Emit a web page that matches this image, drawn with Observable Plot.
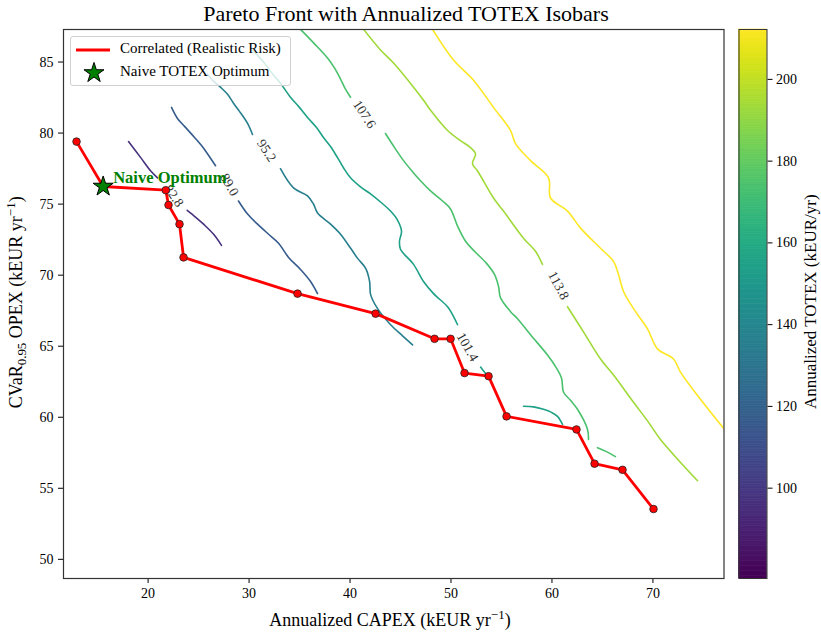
<!DOCTYPE html>
<html>
<head>
<meta charset="utf-8">
<script src="https://cdn.jsdelivr.net/npm/d3@7"></script>
<script src="https://cdn.jsdelivr.net/npm/@observablehq/plot@0.6"></script>
<style>
  html, body { margin: 0; padding: 0; background: #fff; }
  #wrap { position: relative; width: 821px; height: 634px; font-family: "Liberation Serif", "Times New Roman", serif; color: #000; }
  #main, #cbar { position: absolute; top: 0; }
  #main { left: 0; }
  #cbar { left: 735px; }
  .lbl { position: absolute; white-space: nowrap; line-height: 1.15; }
  sup, sub { font-size: 0.72em; line-height: 0; }
</style>
</head>
<body>
<div id="wrap">
  <div id="main"></div>
  <div id="cbar"></div>
  <div class="lbl" id="title" style="left:6px;width:800px;top:1px;text-align:center;font-size:22px;">Pareto Front with Annualized TOTEX Isobars</div>
  <div class="lbl" id="xlab" style="left:190px;width:400px;top:610px;text-align:center;font-size:18px;">Annualized CAPEX (kEUR yr<sup>−1</sup>)</div>
  <div class="lbl" id="ylab" style="left:-184px;width:400px;top:292px;text-align:center;font-size:18px;transform:rotate(-90deg);">CVaR<sub>0.95</sub> OPEX (kEUR yr<sup>−1</sup>)</div>
  <div class="lbl" id="cblab" style="left:611px;width:400px;top:292px;text-align:center;font-size:17px;transform:rotate(-90deg);">Annualized TOTEX (kEUR/yr)</div>
  <div id="legend" style="position:absolute;left:70px;top:36px;width:219px;height:48px;background:rgba(255,255,255,0.8);border:1px solid #d0d0d0;border-radius:3px;font-size:15px;">
    <svg id="legsvg" width="50" height="48" style="position:absolute;left:0;top:0;"></svg>
    <div class="lbl" style="left:49px;top:3px;">Correlated (Realistic Risk)</div>
    <div class="lbl" style="left:49px;top:26px;">Naive TOTEX Optimum</div>
  </div>
</div>
<script>
// ---- Pareto front (correlated, realistic risk) ----
const frontCapex = [12.91, 15.55, 21.75, 22.02, 23.11, 23.51, 34.80, 42.53, 48.37, 49.96, 51.34, 53.72, 55.50, 62.43, 64.22, 66.99, 70.06];
const frontOpex  = [79.40, 76.24, 75.98, 74.94, 73.59, 71.25, 68.70, 67.29, 65.52, 65.52, 63.11, 62.89, 60.06, 59.14, 56.73, 56.30, 53.54];

// ---- Naive TOTEX optimum ----
const naiveCapex = 15.55;
const naiveOpex = 76.24;

// ---- Isobar levels and traced contour segments [capex, opex] ----
const isoLevels = [82.8, 89.0, 95.2, 101.4, 107.6, 113.8, 120.0];
const iso828 = [
  [[18.06,79.40],[19.25,78.29],[20.24,77.35],[20.93,76.85]],
  [[23.87,74.56],[24.69,74.09],[25.52,73.57],[26.51,72.86],[27.27,72.10]]
];
const iso890 = [
  [[22.32,81.81],[22.91,81.03],[23.61,80.47],[24.60,79.69],[25.29,79.12],[25.88,78.55],[26.68,77.70]],
  [[28.95,75.22],[29.85,74.30],[30.84,73.59],[31.93,72.88],[32.92,72.25],[33.91,71.25],[35.10,70.40],[36.09,69.55],[36.78,68.70]]
];
const iso952 = [
  [[25.88,84.15],[26.38,83.72],[27.17,83.23],[27.87,82.73],[28.46,82.10],[29.05,81.53],[29.85,80.68],[30.34,79.90]],
  [[33.11,77.49],[34.40,76.14],[35.79,75.58],[36.38,75.01],[36.78,74.37],[38.07,73.59],[39.06,72.88],[40.06,71.89],[40.75,71.18],[41.55,70.48],[41.94,69.55],[42.04,68.63],[42.73,67.64],[44.02,66.51],[45.20,65.73],[46.19,65.09]]
];
const iso1014 = [
  [[30.34,85.85],[31.43,85.00],[32.42,84.08],[33.11,83.51],[34.10,82.52],[34.90,81.88],[35.79,81.10],[36.68,80.39],[37.37,79.69],[38.07,79.05],[38.76,78.27],[39.35,77.56],[40.05,76.85],[41.04,76.21],[42.03,75.72],[43.02,75.15],[44.01,74.51],[44.70,73.88],[45.10,73.10],[44.90,72.39],[45.00,71.82],[46.29,70.76],[47.28,69.55],[48.27,68.70],[49.66,67.78],[50.15,67.22],[50.65,66.51]],
  [[52.93,63.53],[53.92,62.61]],
  [[57.18,60.77],[58.17,60.73],[59.16,60.56],[59.96,60.34],[60.55,60.06],[61.05,59.49]]
];
const iso1076 = [
  [[35.10,87.3],[36.39,86.35],[37.77,85.28],[38.47,84.57],[39.06,83.80],[39.55,83.09],[40.05,82.52]],
  [[43.51,79.97],[44.41,78.98],[45.30,78.06],[46.19,77.28],[46.98,76.64],[47.97,75.93],[49.16,75.22],[49.95,74.66],[50.65,73.45],[51.44,72.39],[52.33,71.68],[53.52,70.83],[54.31,70.05],[54.71,69.20],[54.90,68.42],[55.90,67.43],[56.59,66.93],[57.88,65.80],[59.56,64.38],[60.45,63.46],[60.95,62.75],[61.15,61.76],[61.84,61.19],[62.53,60.56],[63.52,59.14],[63.62,58.43]],
  [[64.51,57.86],[65.40,57.58],[66.29,57.23]]
];
const iso1138 = [
  [[41.34,87.3],[43.02,85.85],[44.31,84.93],[46.29,83.23],[47.28,82.31],[47.98,81.60],[49.66,80.18],[50.94,79.47],[51.93,78.98],[52.43,78.55],[52.13,77.84],[52.62,77.35],[54.21,75.43],[55.20,74.51],[57.18,72.60],[58.37,71.68],[59.06,70.76]],
  [[61.54,67.78],[63.12,66.01],[64.81,64.10],[66.10,62.97],[68.08,61.05],[69.57,59.64],[70.75,58.43],[73.03,56.59],[74.42,55.53]]
];
const iso1200 = [
  [[48.17,87.3],[50.25,85.14],[52.23,83.72],[54.21,81.81],[55.90,80.18],[56.39,79.26],[57.88,78.06],[59.66,76.85],[59.86,75.43],[61.54,74.51],[62.83,73.31],[64.81,71.89],[66.10,70.97],[66.59,70.05],[67.09,68.85],[68.28,67.43],[69.46,66.22],[70.45,64.81],[72.04,64.10],[72.73,63.18],[74.71,61.26],[77.09,59.14]]
];

// ---- Inline contour labels ----
const labelLevel = [82.8, 89.0, 95.2, 101.4, 107.6, 113.8];
const labelCapex = [22.55, 28.06, 31.73, 51.64, 41.43, 60.65];
const labelOpex  = [75.58, 76.36, 78.77, 64.95, 81.32, 69.27];
const labelAngle = [55, 60, 57, 60, 57, 62];

// ---- Axis ticks ----
const xTicks = [20, 30, 40, 50, 60, 70];
const yTicks = [50, 55, 60, 65, 70, 75, 80, 85];
const cbTicks = [100, 120, 140, 160, 180, 200];
const contourColorDomain = [76.6, 120.0];
const cbDomain = [77.9, 212.2];

// ---- Build tables ----
const isoSets = [iso828, iso890, iso952, iso1014, iso1076, iso1138, iso1200];
const isoRows = [];
isoSets.forEach((segs, li) => {
  segs.forEach((seg, si) => {
    seg.forEach(([c, o]) => isoRows.push({level: isoLevels[li], seg: li + "-" + si, capex: c, opex: o}));
  });
});
const front = frontCapex.map((c, i) => ({capex: c, opex: frontOpex[i]}));
const labels = labelLevel.map((l, i) => ({level: l, capex: labelCapex[i], opex: labelOpex[i], angle: labelAngle[i]}));
const naive = [{capex: naiveCapex, opex: naiveOpex}];

const font = "'Liberation Serif', 'Times New Roman', serif";

const main = Plot.plot({
  width: 735, height: 634,
  marginLeft: 63, marginRight: 11.5, marginTop: 29, marginBottom: 56,
  x: {domain: [11.62, 77.04], ticks: xTicks, tickSize: 5, tickPadding: 5, label: null},
  y: {domain: [48.65, 87.29], ticks: yTicks, tickSize: 5, tickPadding: 5, label: null},
  color: {type: "linear", scheme: "viridis", domain: contourColorDomain},
  style: {fontFamily: font, fontSize: "14px", color: "#000", background: "transparent"},
  marks: [
    Plot.line(isoRows, {x: "capex", y: "opex", z: "seg", stroke: "level", strokeWidth: 1.6, curve: "catmull-rom", clip: true}),
    Plot.text(labels, {x: "capex", y: "opex", text: d => d3.format(".1f")(d.level), rotate: "angle", fill: "#333", fontSize: 13.5}),
    Plot.line(front, {x: "capex", y: "opex", stroke: "#ff0000", strokeWidth: 2.8}),
    Plot.dot(front, {x: "capex", y: "opex", r: 3.8, fill: "#ff0000", stroke: "#222", strokeWidth: 0.8}),
    Plot.dot(naive, {x: "capex", y: "opex", symbol: "star", r: 6.3, fill: "#008000", stroke: "#000", strokeWidth: 1}),
    Plot.text(naive, {x: "capex", y: "opex", text: () => "Naive Optimum", dx: 10, dy: -9, textAnchor: "start", fill: "#008000", fontWeight: "bold", fontSize: 16.5}),
    Plot.frame({stroke: "#333", strokeWidth: 1.2})
  ]
});
document.getElementById("main").appendChild(main);

// ---- Colorbar ----
const nSteps = 220;
const cbSteps = d3.range(nSteps).map(i => cbDomain[0] + (cbDomain[1] - cbDomain[0]) * i / nSteps);
const stepH = (cbDomain[1] - cbDomain[0]) / nSteps;
const cbar = Plot.plot({
  width: 86, height: 634,
  marginLeft: 3.5, marginRight: 54.5, marginTop: 29, marginBottom: 56,
  y: {domain: cbDomain, ticks: cbTicks, tickSize: 5, tickPadding: 4, label: null, axis: "right"},
  color: {type: "linear", scheme: "viridis", domain: cbDomain},
  style: {fontFamily: font, fontSize: "14px", color: "#000", background: "transparent"},
  marks: [
    Plot.rect(cbSteps, {y1: d => d, y2: d => d + stepH, fill: d => d, stroke: d => d, strokeWidth: 0.6}),
    Plot.frame({stroke: "#333", strokeWidth: 1})
  ]
});
document.getElementById("cbar").appendChild(cbar);

// ---- Legend symbols ----
const leg = d3.select("#legsvg");
leg.append("line").attr("x1", 5).attr("x2", 39).attr("y1", 13).attr("y2", 13).attr("stroke", "#ff0000").attr("stroke-width", 2.8);
leg.append("path").attr("d", d3.symbol(d3.symbolStar, Math.PI * 6.3 * 6.3)()).attr("transform", "translate(23,36)")
  .attr("fill", "#008000").attr("stroke", "#000").attr("stroke-width", 1);
</script>
</body>
</html>
